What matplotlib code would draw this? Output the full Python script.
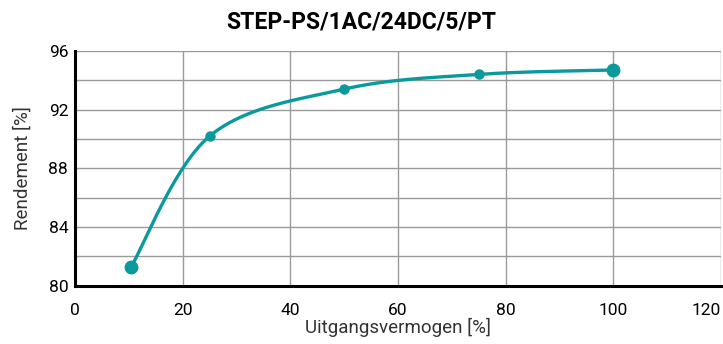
import numpy as np
import matplotlib
matplotlib.use("Agg")
import matplotlib.pyplot as plt

plt.rcParams['font.family'] = ['Roboto', 'DejaVu Sans']

# data
load = [10.4, 25, 50, 75, 100]
eff = [81.3, 90.2, 93.4, 94.4, 94.7]
xticks = [0, 20, 40, 60, 80, 100, 120]
yticks = [80, 84, 88, 92, 96]
title = "STEP-PS/1AC/24DC/5/PT"
teal = "#0a9a9c"


def smooth_line(x, y, n=60):
    # bezier smoothing like a spreadsheet "smoothed line" - drawing only
    p = np.column_stack([x, y]).astype(float)
    out = []
    for i in range(len(p) - 1):
        prev = p[i - 1] if i > 0 else p[i]
        nxt = p[i + 2] if i + 2 < len(p) else p[i + 1]
        c1 = p[i] + (p[i + 1] - prev) / 6
        c2 = p[i + 1] - (nxt - p[i]) / 6
        t = np.linspace(0, 1, n)[:, None]
        seg = ((1 - t)**3 * p[i] + 3 * (1 - t)**2 * t * c1
               + 3 * (1 - t) * t**2 * c2 + t**3 * p[i + 1])
        out.append(seg)
    s = np.vstack(out)
    return s[:, 0], s[:, 1]


fig = plt.figure(figsize=(7.23, 3.44), dpi=100)
ax = fig.add_axes([0.104, 0.169, 0.893, 0.683])

sx, sy = smooth_line(load, eff)
ax.plot(sx, sy, color=teal, lw=2.4, zorder=3, solid_capstyle='round')
ax.plot(load[1:-1], eff[1:-1], 'o', color=teal, ms=6.5, zorder=4)
ax.plot([load[0], load[-1]], [eff[0], eff[-1]], 'o', color=teal, ms=9, zorder=4)

ax.set_xlim(0, 120)
ax.set_ylim(80, 96)
ax.set_xticks(xticks)
ax.set_yticks(yticks)
ax.set_yticks(np.arange(80, 97, 2), minor=True)
ax.grid(True, which='both', color='#9a9a9a', lw=1)
ax.tick_params(which='both', length=0, labelsize=12.5, pad=5)
ax.tick_params(axis='x', pad=12)
ax.get_xticklabels()[-1].set_horizontalalignment('right')
for s in ['top', 'right']:
    ax.spines[s].set_visible(False)
for s in ['left', 'bottom']:
    ax.spines[s].set_linewidth(2.2)
    ax.spines[s].set_color('black')
    ax.spines[s].set_zorder(5)

ax.set_xlabel("Uitgangsvermogen [%]", fontsize=13.5, color='#333333', labelpad=0)
ax.set_ylabel("Rendement [%]", fontsize=13.5, color='#333333', labelpad=12)
fig.text(0.5, 0.935, title, ha='center', va='center', fontsize=16.5, fontweight='bold')

fig.savefig("out.png", dpi=100)
